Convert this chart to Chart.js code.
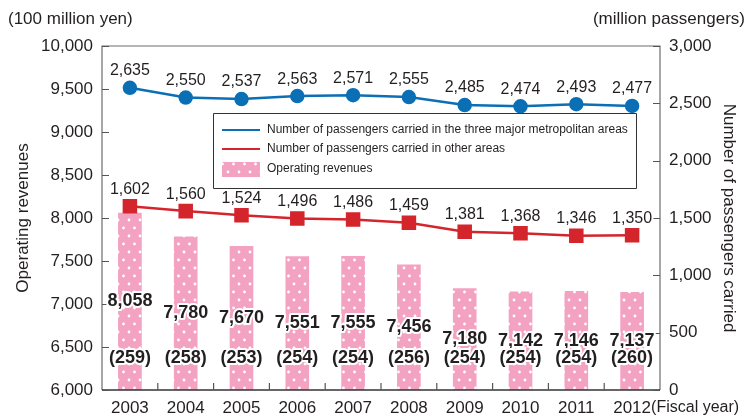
<!DOCTYPE html>
<html>
<head>
<meta charset="utf-8">
<script src="https://cdn.jsdelivr.net/npm/chart.js@4.4.1/dist/chart.umd.min.js"></script>
<style>
  html, body { margin: 0; padding: 0; background: #fff; }
  #wrap { width: 749px; height: 416px; }
</style>
</head>
<body>
<div id="wrap"><canvas id="chart" width="749" height="416"></canvas></div>
<script>
// données
const years = ['2003', '2004', '2005', '2006', '2007', '2008', '2009', '2010', '2011', '2012'];
const metroPassengers = [2635, 2550, 2537, 2563, 2571, 2555, 2485, 2474, 2493, 2477];
const otherPassengers = [1602, 1560, 1524, 1496, 1486, 1459, 1381, 1368, 1346, 1350];
const revenues = [8058, 7780, 7670, 7551, 7555, 7456, 7180, 7142, 7146, 7137];
const bracketValues = [259, 258, 253, 254, 254, 256, 254, 254, 254, 260];
const leftTicks = [6000, 6500, 7000, 7500, 8000, 8500, 9000, 9500, 10000];
const rightTicks = [0, 500, 1000, 1500, 2000, 2500, 3000];

const FONT = '"Liberation Sans", Arial, Helvetica, sans-serif';
const BLUE = '#0a6fb5';
const RED = '#d4252c';
const PINK = '#f4a2c2';

// motif rose à pois blancs
function makeDots() {
    const c = document.createElement('canvas');
    c.width = 11; c.height = 16;
    const g = c.getContext('2d');
    g.fillStyle = PINK;
    g.fillRect(0, 0, 11, 16);
    g.fillStyle = '#ffffff';
    g.beginPath(); g.arc(2.5, 4, 1.4, 0, Math.PI * 2); g.fill();
    g.beginPath(); g.arc(8, 12, 1.4, 0, Math.PI * 2); g.fill();
    return g.createPattern(c, 'repeat');
}
const dots = makeDots();

function outlinedText(ctx, text, x, y) {
    ctx.lineJoin = 'round';
    ctx.strokeStyle = '#ffffff';
    ctx.lineWidth = 4;
    ctx.strokeText(text, x, y);
    ctx.fillText(text, x, y);
}

// Plugin : cadre, graduations intérieures, étiquettes, légende
const decorations = {
    id: 'decorations',
    afterDatasetsDraw(chart) {
        const ctx = chart.ctx;
        const area = chart.chartArea;
        const yL = chart.scales.y;
        const yR = chart.scales.y2;
        const x = chart.scales.x;
        ctx.save();

        // cadre
        ctx.strokeStyle = '#6d6d6d';
        ctx.lineWidth = 1.2;
        ctx.beginPath();
        ctx.moveTo(area.left, area.bottom);
        ctx.lineTo(area.left, area.top);
        ctx.lineTo(area.right, area.top);
        ctx.lineTo(area.right, area.bottom);
        ctx.stroke();
        ctx.strokeStyle = '#333';
        ctx.lineWidth = 1.5;
        ctx.beginPath();
        ctx.moveTo(area.left, area.bottom);
        ctx.lineTo(area.right, area.bottom);
        ctx.stroke();

        // graduations vers l'intérieur
        ctx.strokeStyle = '#555';
        ctx.lineWidth = 1.2;
        ctx.beginPath();
        leftTicks.forEach(v => {
            const py = Math.round(yL.getPixelForValue(v)) + 0.5;
            ctx.moveTo(area.left, py); ctx.lineTo(area.left + 7, py);
        });
        rightTicks.forEach(v => {
            const py = Math.round(yR.getPixelForValue(v)) + 0.5;
            ctx.moveTo(area.right, py); ctx.lineTo(area.right - 7, py);
        });
        for (let i = 1; i < years.length; i++) {
            const px = (x.getPixelForValue(i - 1) + x.getPixelForValue(i)) / 2;
            ctx.moveTo(px, area.bottom); ctx.lineTo(px, area.bottom - 7);
        }
        ctx.stroke();

        // étiquettes des barres
        const barMeta = chart.getDatasetMeta(2);
        const basePx = yL.getPixelForValue(yL.min);
        ctx.fillStyle = '#231f20';
        ctx.textAlign = 'center';
        ctx.textBaseline = 'middle';
        ctx.font = 'bold 18px ' + FONT;
        barMeta.data.forEach((bar, i) => {
            const mid = (yL.getPixelForValue(revenues[i]) + basePx) / 2;
            outlinedText(ctx, revenues[i].toLocaleString('en-US'), bar.x, mid);
            outlinedText(ctx, '(' + bracketValues[i] + ')', bar.x, yL.getPixelForValue(6372));
        });

        // étiquettes des lignes
        ctx.font = '16px ' + FONT;
        [[0, metroPassengers], [1, otherPassengers]].forEach(([idx, vals]) => {
            chart.getDatasetMeta(idx).data.forEach((pt, i) => {
                outlinedText(ctx, vals[i].toLocaleString('en-US'), pt.x, pt.y - 17);
            });
        });

        // légende
        const lx = 213, ly = 113, lw = 423, lh = 75;
        ctx.fillStyle = '#fff';
        ctx.fillRect(lx, ly, lw, lh);
        ctx.strokeStyle = '#333';
        ctx.lineWidth = 1;
        ctx.strokeRect(lx + 0.5, ly + 0.5, lw, lh);
        ctx.lineWidth = 2;
        ctx.strokeStyle = BLUE;
        ctx.beginPath(); ctx.moveTo(222, 130); ctx.lineTo(260, 130); ctx.stroke();
        ctx.strokeStyle = RED;
        ctx.beginPath(); ctx.moveTo(222, 149); ctx.lineTo(260, 149); ctx.stroke();
        ctx.fillStyle = dots;
        ctx.fillRect(222, 162, 38, 15);
        ctx.fillStyle = '#231f20';
        ctx.font = '12px ' + FONT;
        ctx.textAlign = 'left';
        ctx.fillText('Number of passengers carried in the three major metropolitan areas', 267, 130);
        ctx.fillText('Number of passengers carried in other areas', 267, 149);
        ctx.fillText('Operating revenues', 267, 169);

        // unités et "(Fiscal year)"
        ctx.font = '17px ' + FONT;
        ctx.fillText('(100 million yen)', 8, 19);
        ctx.textAlign = 'right';
        ctx.fillText('(million passengers)', 745, 19);
        ctx.textAlign = 'left';
        ctx.font = '16px ' + FONT;
        ctx.fillText('(Fiscal year)', x.getPixelForValue(9) + 19, 408);

        ctx.restore();
    }
};

const ctx = document.getElementById('chart').getContext('2d');
new Chart(ctx, {
    type: 'bar',
    data: {
        labels: years,
        datasets: [
            {
                type: 'line',
                label: 'Number of passengers carried in the three major metropolitan areas',
                data: metroPassengers,
                yAxisID: 'y2',
                borderColor: BLUE,
                backgroundColor: BLUE,
                borderWidth: 2.5,
                pointRadius: 6,
                pointHoverRadius: 6,
                tension: 0,
                order: 1
            },
            {
                type: 'line',
                label: 'Number of passengers carried in other areas',
                data: otherPassengers,
                yAxisID: 'y2',
                borderColor: RED,
                backgroundColor: RED,
                borderWidth: 2.5,
                pointStyle: 'rect',
                pointRadius: 8.5,
                pointHoverRadius: 8.5,
                tension: 0,
                order: 1
            },
            {
                label: 'Operating revenues',
                data: revenues,
                yAxisID: 'y',
                backgroundColor: dots,
                barThickness: 23,
                order: 2
            }
        ]
    },
    options: {
        responsive: false,
        animation: false,
        layout: { padding: { top: 46, right: 0, left: 0, bottom: 0 } },
        plugins: {
            legend: { display: false },
            tooltip: { enabled: false }
        },
        scales: {
            x: {
                offset: true,
                grid: { display: false, drawTicks: false },
                border: { display: false },
                ticks: { color: '#231f20', font: { family: FONT, size: 17 }, padding: 8, maxRotation: 0 },
                afterFit(s) { s.height = 26; }
            },
            y: {
                position: 'left',
                min: 6000, max: 10000,
                afterBuildTicks(s) { s.ticks = leftTicks.map(v => ({ value: v })); },
                grid: { display: false, drawTicks: false },
                border: { display: false },
                ticks: {
                    color: '#231f20', font: { family: FONT, size: 17 }, padding: 9,
                    callback: v => v.toLocaleString('en-US')
                },
                title: {
                    display: true, text: 'Operating revenues', color: '#231f20',
                    font: { family: FONT, size: 17 }, padding: { top: 13, bottom: 0 }
                },
                afterFit(s) { s.width = 102; }
            },
            y2: {
                position: 'right',
                min: 0, max: 3000,
                afterBuildTicks(s) { s.ticks = rightTicks.map(v => ({ value: v })); },
                grid: { display: false, drawTicks: false },
                border: { display: false },
                ticks: {
                    color: '#231f20', font: { family: FONT, size: 17 }, padding: 9,
                    callback: v => v.toLocaleString('en-US')
                },
                title: {
                    display: true, text: 'Number of passengers carried', color: '#231f20',
                    font: { family: FONT, size: 17 }, padding: { top: 10, bottom: 0 }
                },
                afterFit(s) { s.width = 89; }
            }
        }
    },
    plugins: [decorations]
});
</script>
</body>
</html>
